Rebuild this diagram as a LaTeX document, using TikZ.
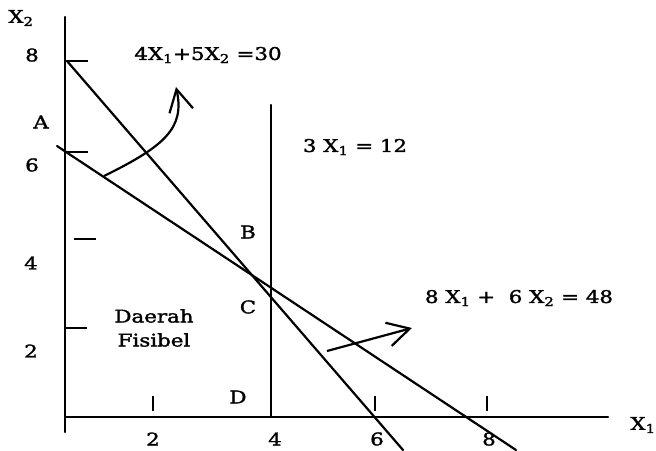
\documentclass[tikz,border=0pt]{standalone}
\usepackage{fontspec}
\setmainfont[FakeStretch=1.22,FakeBold=1.8]{DejaVu Serif}
\usetikzlibrary{arrows.meta}
\tikzset{
  ln/.style={line width=2.2pt, line cap=round},
  lbl/.style={inner sep=0pt, font=\fontsize{17.5}{20}\selectfont},
  arr/.style={line width=2.2pt, -{Straight Barb[length=22pt,width=24pt,line width=2.2pt]}},
  tick/.style={line width=2.2pt}
}
\newcommand{\Xa}{X\textsubscript{1}}
\newcommand{\Xb}{X\textsubscript{2}}
\begin{document}
\begin{tikzpicture}[x=1pt,y=-1pt]
\useasboundingbox (0,0) rectangle (656,450);
% axes
\coordinate (ytop) at (65,17);
\coordinate (ybot) at (65,432);
\coordinate (xl) at (65,417);
\coordinate (xr) at (608,417);
\draw[ln] (ytop) -- (ybot);
\draw[ln] (xl) -- (xr);
% ticks y
\coordinate (t8a) at (65,61);  \coordinate (t8b) at (88,61);
\coordinate (t6a) at (65,152); \coordinate (t6b) at (88,152);
\coordinate (t4a) at (74,239); \coordinate (t4b) at (96,239);
\coordinate (t2a) at (65,328); \coordinate (t2b) at (87,328);
\draw[tick] (t8a) -- (t8b);
\draw[tick] (t6a) -- (t6b);
\draw[tick] (t4a) -- (t4b);
\draw[tick] (t2a) -- (t2b);
% ticks x
\coordinate (u2a) at (153,396); \coordinate (u2b) at (153,411);
\coordinate (u6a) at (375,396); \coordinate (u6b) at (375,411);
\coordinate (u8a) at (487,396); \coordinate (u8b) at (487,411);
\draw[tick] (u2a) -- (u2b);
\draw[tick] (u6a) -- (u6b);
\draw[tick] (u8a) -- (u8b);
% constraint lines
\coordinate (l1s) at (67,61);   \coordinate (l1e) at (403,450);
\coordinate (l2s) at (57,146);  \coordinate (l2e) at (516,450);
\coordinate (l3s) at (271,105); \coordinate (l3e) at (271,417);
\draw[ln] (l1s) -- (l1e);
\draw[ln] (l2s) -- (l2e);
\draw[ln] (l3s) -- (l3e);
% arrows
\coordinate (a1s) at (104,176); \coordinate (a1e) at (176,87);
\draw[arr] (a1s) .. controls (165,146) and (185,128) .. (a1e);
\coordinate (a2s) at (327,351); \coordinate (a2e) at (412,328);
\draw[arr] (a2s) -- (a2e);
% labels
\node[lbl] (x2) at (21,18) {\Xb};
\node[lbl] (x1) at (643,425) {\Xa};
\node[lbl] (n8) at (32,55) {8};
\node[lbl] (n6) at (32,165) {6};
\node[lbl] (n4) at (31,263) {4};
\node[lbl] (n2) at (31,351) {2};
\node[lbl] (m2) at (153,439) {2};
\node[lbl] (m4) at (275,439) {4};
\node[lbl] (m6) at (377,439) {6};
\node[lbl] (m8) at (489,439) {8};
\node[lbl] (A) at (41,122) {A};
\node[lbl] (B) at (248,232) {B};
\node[lbl] (C) at (248,307) {C};
\node[lbl] (D) at (238,397) {D};
\node[lbl] (dae) at (154,316) {Daerah};
\node[lbl] (fis) at (154,340) {Fisibel};
\node[lbl] (eq1) at (208,55) {4\Xa+5\Xb\ =30};
\node[lbl] (eq2) at (355,147) {3 \Xa\ = 12};
\node[lbl] (eq3) at (519,298) {8 \Xa\ +\ \ 6 \Xb\ = 48};
\end{tikzpicture}
\end{document}
